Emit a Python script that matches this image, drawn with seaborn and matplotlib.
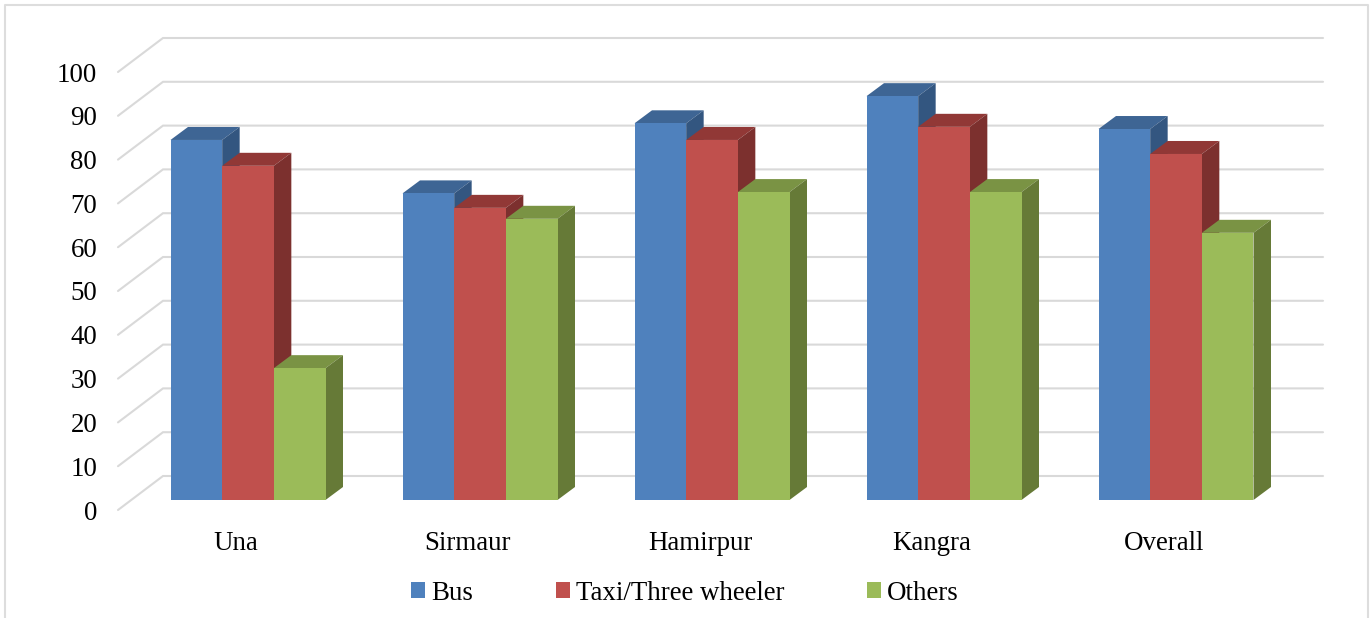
import matplotlib
matplotlib.use("Agg")
import matplotlib.pyplot as plt
from matplotlib.lines import Line2D
from matplotlib.patches import Polygon
from matplotlib.transforms import ScaledTranslation
import pandas as pd
import seaborn as sns

# Share of respondents per district and transport mode
districts = ["Una", "Sirmaur", "Hamirpur", "Kangra", "Overall"]
bus = [82.2, 70, 86, 92.2, 84.7]
taxi = [76.3, 66.7, 82.2, 85.2, 79]
others = [30.1, 64.2, 70.3, 70.3, 61]
modes = ["Bus", "Taxi/Three wheeler", "Others"]
yticks = list(range(0, 101, 10))

front_colors = ["#4F81BD", "#C0504D", "#9BBB59"]
top_colors = ["#3E6594", "#913836", "#7A9344"]
side_colors = ["#335680", "#7C302E", "#667A37"]
grid_color = "#D9D9D9"
frame_color = "#DDDDDD"

sns.set_theme(style="white")
plt.rcParams["font.family"] = ["Liberation Serif", "DejaVu Serif"]

W, H = 1371, 618
fig = plt.figure(figsize=(W / 100, H / 100), dpi=100)

# Axes placed in pixels: the plot floor sits at y=500, value 100 is 438 px higher
left, right, bottom, top = 118, 1278, 500, 62
ax = fig.add_axes([left / W, 1 - bottom / H, (right - left) / W, (bottom - top) / H])

group_px = 232.0
unit_px = (bottom - top) / 100.0
first_center = 248.0
xlim = ((left - first_center) / group_px, (right - first_center) / group_px)
font_pt = 19.4

frame = pd.DataFrame({
    "district": districts * 3,
    "mode": [m for m in modes for _ in districts],
    "share": bus + taxi + others,
})

sns.barplot(
    data=frame, x="district", y="share", hue="mode", order=districts, hue_order=modes,
    palette=front_colors, saturation=1, width=155 / group_px, gap=0, dodge=True,
    linewidth=0, ax=ax, errorbar=None,
)
ax.set_xlim(*xlim)
ax.set_ylim(0, 100)
ax.set_xlabel("")
ax.set_ylabel("")
sns.despine(ax=ax, left=True, bottom=True)

# Receding wall lines: a diagonal from the front plane, then along the back wall
wall_dx = 45 / group_px
front_dy = -10 / unit_px
back_dy = 24 / unit_px
for v in yticks:
    ax.plot(
        [xlim[0], xlim[0] + wall_dx, xlim[1] + wall_dx],
        [v + front_dy, v + back_dy, v + back_dy],
        color=grid_color, lw=1.5, clip_on=False, zorder=1, solid_joinstyle="miter",
    )

# Extruded top and side faces derived from each seaborn bar
depth_x = 17.5 / group_px
depth_y = 13 / unit_px
for i, container in enumerate(ax.containers):
    for bar in container:
        x0, w, h = bar.get_x(), bar.get_width(), bar.get_height()
        x1 = x0 + w
        z = 3 + i
        ax.add_patch(Polygon(
            [(x0, h), (x1, h), (x1 + depth_x, h + depth_y), (x0 + depth_x, h + depth_y)],
            closed=True, facecolor=top_colors[i], edgecolor="none", clip_on=False, zorder=z,
        ))
        ax.add_patch(Polygon(
            [(x1, 0), (x1 + depth_x, depth_y), (x1 + depth_x, h + depth_y), (x1, h)],
            closed=True, facecolor=side_colors[i], edgecolor="none", clip_on=False, zorder=z,
        ))
        bar.set_zorder(z + 0.5)

# Tick labels
ax.set_yticks(yticks)
ax.set_yticklabels([str(v) for v in yticks])
ax.tick_params(axis="y", length=0, pad=15, labelsize=font_pt, labelcolor="black")
ax.tick_params(axis="x", length=0, pad=22.5, labelsize=font_pt, labelcolor="black")
shift_y = ScaledTranslation(0, -10 / 100, fig.dpi_scale_trans)
shift_x = ScaledTranslation(-12 / 100, 0, fig.dpi_scale_trans)
for lab in ax.get_yticklabels():
    lab.set_transform(lab.get_transform() + shift_y)
for lab in ax.get_xticklabels():
    lab.set_transform(lab.get_transform() + shift_x)

# Legend along the bottom
handles, labels = ax.get_legend_handles_labels()
ax.legend(
    handles, labels, ncol=3, frameon=False, loc="center",
    bbox_to_anchor=(685 / W, 1 - 593 / H), bbox_transform=fig.transFigure,
    fontsize=font_pt, handlelength=0.52, handleheight=0.52, handletextpad=0.22,
    columnspacing=3.07, borderpad=0, borderaxespad=0, labelcolor="black",
)

# Open-bottomed chart frame
fig.add_artist(Line2D(
    [5 / W, 5 / W, 1368 / W, 1368 / W],
    [0, 1 - 5 / H, 1 - 5 / H, 0],
    color=frame_color, lw=1.5, transform=fig.transFigure,
))

fig.savefig("out.png", dpi=100, facecolor="white")
